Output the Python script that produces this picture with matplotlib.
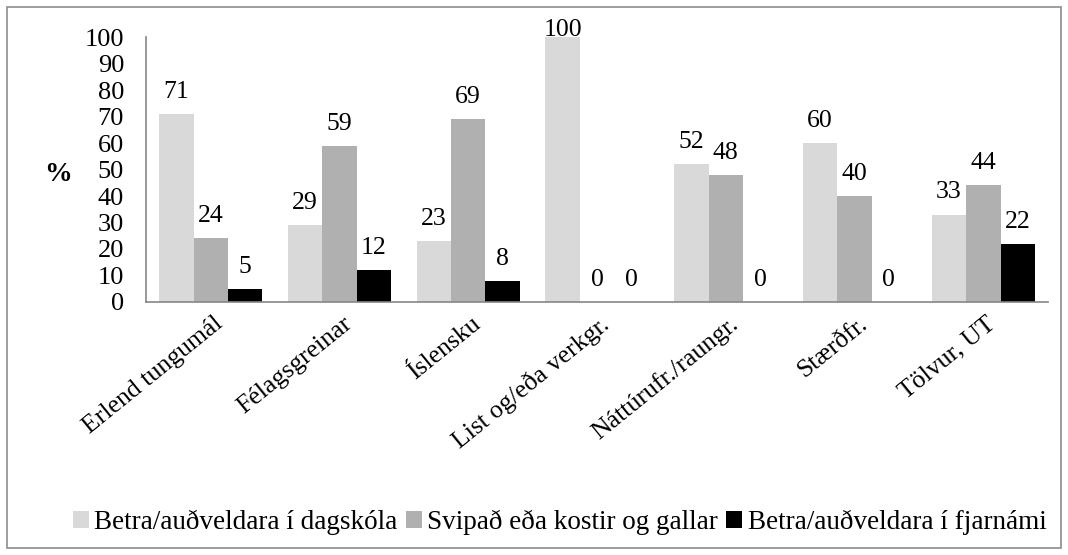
import numpy as np
import matplotlib.pyplot as plt
from matplotlib.patches import Rectangle
import matplotlib.transforms as mtransforms

plt.rcParams['font.family'] = ['Liberation Serif', 'DejaVu Serif']

categories = ['Erlend tungumál', 'Félagsgreinar', 'Íslensku', 'List og/eða verkgr.',
              'Náttúrufr./raungr.', 'Stærðfr.', 'Tölvur, UT']
series_names = ['Betra/auðveldara í dagskóla', 'Svipað eða kostir og gallar',
                'Betra/auðveldara í fjarnámi']
dagskoli = [71, 29, 23, 100, 52, 60, 33]
svipad = [24, 59, 69, 0, 48, 40, 44]
fjarnam = [5, 12, 8, 0, 0, 0, 22]
colors = ['#d9d9d9', '#b0b0b0', '#000000']
yticks = list(range(0, 101, 10))

fig = plt.figure(figsize=(10.68, 5.55), dpi=100)
fig.patches.append(Rectangle((0.0065, 0.013), 0.987, 0.975, transform=fig.transFigure,
                             fill=False, edgecolor='#8c8c8c', linewidth=1.2))
ax = fig.add_axes([0.137, 0.456, 0.844, 0.477])

x = np.arange(len(categories))
w = 0.267
for i, (vals, name, c) in enumerate(zip([dagskoli, svipad, fjarnam], series_names, colors)):
    bars = ax.bar(x + (i - 1) * w, vals, w, color=c, label=name)
    texts = ax.bar_label(bars, labels=[str(v) for v in vals], padding=8, fontsize=18.5)
    # labels that would go above the plot area are pushed down (like Excel)
    for t, v in zip(texts, vals):
        if v >= 95:
            t.xyann = (0, -3)

ax.set_xlim(-0.5, len(categories) - 0.5)
ax.set_ylim(0, 100)
ax.set_yticks(yticks)
ax.tick_params(axis='y', length=0, pad=16, labelsize=19)
ax.tick_params(axis='x', length=0, pad=0, labelsize=18.5)
ax.set_xticks(x)
ax.set_xticklabels(categories, rotation=39, ha='right', va='center', rotation_mode='anchor')
offset = mtransforms.ScaledTranslation(7 / 72, -14 / 72, fig.dpi_scale_trans)
for lab in ax.get_xticklabels():
    lab.set_transform(lab.get_transform() + offset)

for s in ['top', 'right']:
    ax.spines[s].set_visible(False)
for s in ['left', 'bottom']:
    ax.spines[s].set_color('#868686')
    ax.spines[s].set_linewidth(1.2)

fig.text(0.054, 0.685, '%', fontsize=20, fontweight='bold', ha='center', va='center')

fig.legend(loc='center', bbox_to_anchor=(0.524, 0.059), ncol=3, frameon=False,
           fontsize=19.5, handlelength=0.6, handleheight=0.6, handletextpad=0.2,
           columnspacing=0.3)

fig.savefig('out.png', dpi=100)
